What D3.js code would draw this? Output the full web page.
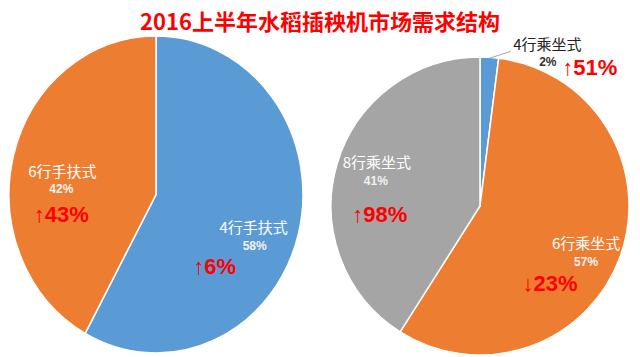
<!DOCTYPE html>
<html>
<head>
<meta charset="utf-8">
<script src="https://cdn.jsdelivr.net/npm/d3@7/dist/d3.min.js"></script>
<style>
html,body{margin:0;padding:0;background:#fff;}
svg{display:block;}
</style>
</head>
<body>
<svg id="chart" width="640" height="357"></svg>
<script>
// ---- data ----
const title = "2016上半年水稻插秧机市场需求结构";
const leftCategories = ["4行手扶式", "6行手扶式"];
const leftValues = [58, 42];
const leftChanges = ["↑6%", "↑43%"];
const rightCategories = ["4行乘坐式", "6行乘坐式", "8行乘坐式"];
const rightValues = [2, 57, 41];
const rightChanges = ["↑51%", "↓23%", "↑98%"];

// ---- style / layout ----
const colors = {"4行手扶式": "#5B9BD5", "6行手扶式": "#ED7D31",
                "4行乘坐式": "#5B9BD5", "6行乘坐式": "#ED7D31", "8行乘坐式": "#A5A5A5"};
const cjk = "'Noto Sans CJK SC', 'Noto Sans', sans-serif";
const latin = "'Liberation Sans', Arial, 'Noto Sans CJK SC', sans-serif";

const svg = d3.select("#chart");

svg.append("text")
  .attr("x", 320).attr("y", 30)
  .attr("text-anchor", "middle")
  .attr("font-family", cjk)
  .attr("font-weight", "bold")
  .attr("font-size", 22)
  .attr("fill", "#FF0000")
  .text(title);

function drawPie(cfg) {
  const data = cfg.categories.map((c, i) => ({cat: c, value: cfg.values[i], change: cfg.changes[i]}));
  const pie = d3.pie().sort(null).value(d => d.value);
  const arcs = pie(data);
  const arc = d3.arc().innerRadius(0).outerRadius(cfg.rx);
  const sy = cfg.ry / cfg.rx;
  const g = svg.append("g").attr("transform", `translate(${cfg.cx},${cfg.cy})`);
  g.append("g").attr("transform", `scale(1,${sy})`)
    .selectAll("path").data(arcs).join("path")
    .attr("d", arc)
    .attr("fill", d => colors[d.data.cat])
    .attr("stroke", "#fff")
    .attr("stroke-width", 1.5)
    .attr("vector-effect", "non-scaling-stroke");

  arcs.forEach((a, i) => {
    const lay = cfg.layout[i];
    const mid = (a.startAngle + a.endAngle) / 2;
    const px = Math.sin(mid) * cfg.rx * lay.k;
    const py = -Math.cos(mid) * cfg.ry * lay.k;
    const nx = px + lay.name[0], ny = py + lay.name[1];
    const fill = lay.dark ? "#222" : "#fff";
    g.append("text").attr("x", nx).attr("y", ny + 5)
      .attr("text-anchor", "middle").attr("font-family", cjk)
      .attr("font-size", 15).attr("fill", fill).text(a.data.cat);
    g.append("text").attr("x", nx + lay.pct[0]).attr("y", ny + lay.pct[1] + 4)
      .attr("text-anchor", "middle").attr("font-family", latin).attr("font-weight", "bold")
      .attr("font-size", 12).attr("fill", lay.dark ? "#333" : "#f2f2f2")
      .text(a.data.value + "%");
    g.append("text").attr("x", nx + lay.chg[0]).attr("y", ny + lay.chg[1] + 8)
      .attr("text-anchor", "middle").attr("font-family", latin).attr("font-weight", "bold")
      .attr("font-size", 22).attr("fill", "#FF0000")
      .text(a.data.change);
    if (lay.leader) {
      const ex = Math.sin(mid) * cfg.rx, ey = -Math.cos(mid) * cfg.ry;
      g.append("path")
        .attr("d", `M${ex},${ey + 1}L${nx - 36.5},${ny + 6.5}`)
        .attr("stroke", "#A6A6A6").attr("stroke-width", 1).attr("fill", "none");
    }
  });
}

drawPie({
  categories: leftCategories, values: leftValues, changes: leftChanges,
  cx: 156, cy: 194.5, rx: 147, ry: 158.5,
  layout: [
    {k: 0.7, name: [-2, 6], pct: [1, 18], chg: [-39, 38]},
    {k: 0.7, name: [6, 5], pct: [-1, 17], chg: [-1, 42]}
  ]
});

drawPie({
  categories: rightCategories, values: rightValues, changes: rightChanges,
  cx: 480, cy: 206, rx: 149, ry: 149,
  layout: [
    {k: 1.0, name: [58, -12.5], pct: [0.5, 17.5], chg: [42.5, 22], dark: true, leader: true},
    {k: 0.7, name: [8, 3], pct: [0, 18], chg: [-36, 39]},
    {k: 0.7, name: [-3, -14], pct: [-1, 18], chg: [3, 51]}
  ]
});
</script>
</body>
</html>
